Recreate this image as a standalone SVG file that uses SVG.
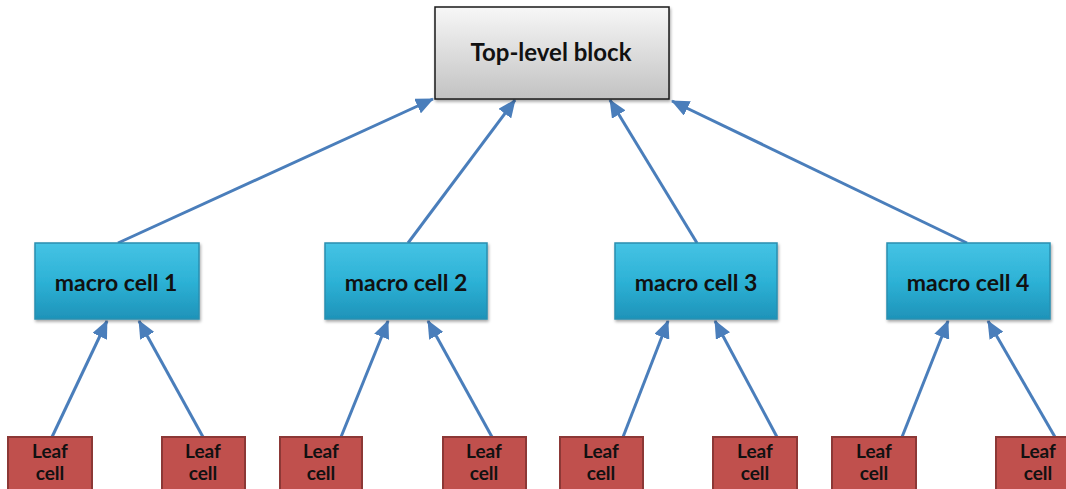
<svg xmlns="http://www.w3.org/2000/svg" width="1066" height="489" viewBox="0 0 1066 489">
<defs>
<linearGradient id="gTop" x1="0" y1="0" x2="0" y2="1">
<stop offset="0" stop-color="#f7f7f7"/><stop offset="1" stop-color="#c2c2c2"/>
</linearGradient>
<linearGradient id="gMacro" x1="0" y1="0" x2="0" y2="1">
<stop offset="0" stop-color="#45c3e4"/><stop offset="0.5" stop-color="#2db2d6"/><stop offset="1" stop-color="#1e93b9"/>
</linearGradient>
<filter id="sh" x="-10%" y="-10%" width="130%" height="140%">
<feDropShadow dx="1" dy="2" stdDeviation="1.5" flood-color="#000" flood-opacity="0.35"/>
</filter>
<marker id="ah" markerUnits="userSpaceOnUse" markerWidth="18" markerHeight="16" viewBox="0 0 18 16" refX="17" refY="8" orient="auto">
<path d="M0,0 L18,8 L0,16 Z" fill="#4a7ebb"/>
</marker>
<style>
.top{fill:url(#gTop);stroke:#1a1a1a;stroke-width:1.5;filter:url(#sh)}
.mac{fill:url(#gMacro);stroke:#2a8fb0;stroke-width:1.5;filter:url(#sh)}
.leaf{fill:#c0504d;stroke:#8c3836;stroke-width:2}
.t{font-family:Lato,"Open Sans","Liberation Sans",sans-serif;font-weight:bold;fill:#111;text-anchor:middle}
.tt{font-size:24px}
.tb{font-size:23px}
.tl{font-size:19px}
.c{fill:none;stroke:#4a7ebb;stroke-width:3;marker-end:url(#ah)}
</style>
</defs>
<g id="connectors">
<path class="c" d="M118,243 L433,99"/>
<path class="c" d="M408,243 L515,100"/>
<path class="c" d="M697,243 L610,100"/>
<path class="c" d="M967,243 L672,101"/>
<path class="c" d="M52,437 L107,321"/>
<path class="c" d="M203,437 L139,321"/>
<path class="c" d="M341,437 L388,321"/>
<path class="c" d="M492,437 L428,321"/>
<path class="c" d="M623,437 L668,321"/>
<path class="c" d="M777,437 L715,321"/>
<path class="c" d="M902,437 L948,321"/>
<path class="c" d="M1055,437 L988,321"/>
</g>
<g id="top"><rect class="top" x="435" y="7" width="234" height="92"/><text class="t tt" x="551" y="61">Top-level block</text></g>
<g id="macro1"><rect class="mac" x="35" y="243" width="164" height="76"/><text class="t tb" x="116" y="291">macro cell 1</text></g>
<g id="macro2"><rect class="mac" x="325" y="243" width="162" height="76"/><text class="t tb" x="406" y="291">macro cell 2</text></g>
<g id="macro3"><rect class="mac" x="615" y="243" width="162" height="76"/><text class="t tb" x="696" y="291">macro cell 3</text></g>
<g id="macro4"><rect class="mac" x="887" y="243" width="163" height="76"/><text class="t tb" x="968" y="291">macro cell 4</text></g>
<g id="leaf1"><rect class="leaf" x="8" y="437" width="84" height="60"/><text class="t tl" x="50" y="458">Leaf</text><text class="t tl" x="50" y="480">cell</text></g>
<g id="leaf2"><rect class="leaf" x="162" y="437" width="83" height="60"/><text class="t tl" x="203" y="458">Leaf</text><text class="t tl" x="203" y="480">cell</text></g>
<g id="leaf3"><rect class="leaf" x="280" y="437" width="82" height="60"/><text class="t tl" x="321" y="458">Leaf</text><text class="t tl" x="321" y="480">cell</text></g>
<g id="leaf4"><rect class="leaf" x="443" y="437" width="83" height="60"/><text class="t tl" x="484" y="458">Leaf</text><text class="t tl" x="484" y="480">cell</text></g>
<g id="leaf5"><rect class="leaf" x="560" y="437" width="83" height="60"/><text class="t tl" x="601" y="458">Leaf</text><text class="t tl" x="601" y="480">cell</text></g>
<g id="leaf6"><rect class="leaf" x="713" y="437" width="84" height="60"/><text class="t tl" x="755" y="458">Leaf</text><text class="t tl" x="755" y="480">cell</text></g>
<g id="leaf7"><rect class="leaf" x="832" y="437" width="84" height="60"/><text class="t tl" x="874" y="458">Leaf</text><text class="t tl" x="874" y="480">cell</text></g>
<g id="leaf8"><rect class="leaf" x="996" y="437" width="84" height="60"/><text class="t tl" x="1038" y="458">Leaf</text><text class="t tl" x="1038" y="480">cell</text></g>
</svg>
